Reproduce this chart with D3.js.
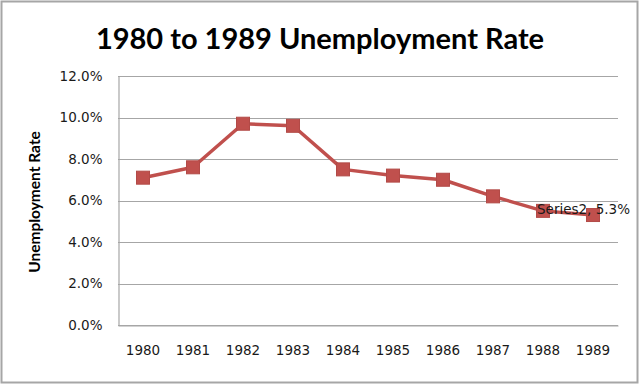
<!DOCTYPE html>
<html>
<head>
<meta charset="utf-8">
<script src="https://cdn.jsdelivr.net/npm/d3@7"></script>
<style>
  body { margin: 0; background: #fff; }
  svg text { font-family: "DejaVu Sans", sans-serif; }
</style>
</head>
<body>
<div id="chart"></div>
<script>
// chart data
var years = ["1980", "1981", "1982", "1983", "1984", "1985", "1986", "1987", "1988", "1989"];
var rates = [7.1, 7.6, 9.7, 9.6, 7.5, 7.2, 7.0, 6.2, 5.5, 5.3];
var yTicks = [0, 2, 4, 6, 8, 10, 12];
var seriesName = "Series2";

var width = 640, height = 386;
var plot = { left: 118, right: 618, top: 76, bottom: 325 };

var svg = d3.select("#chart").append("svg")
    .attr("width", width)
    .attr("height", height);

// outer frame
svg.append("rect")
    .attr("x", 1.5).attr("y", 1.5)
    .attr("width", width - 4).attr("height", height - 5)
    .attr("fill", "#fff")
    .attr("stroke", "#a6a6a6")
    .attr("stroke-width", 2);

var x = d3.scaleBand().domain(years).range([plot.left, plot.right]);
var y = d3.scaleLinear().domain([0, 12]).range([plot.bottom, plot.top]);

// gridlines
svg.append("g").selectAll("line")
    .data(yTicks)
    .enter().append("line")
    .attr("x1", plot.left).attr("x2", plot.right)
    .attr("y1", function (d) { return Math.round(y(d)) + 0.5; })
    .attr("y2", function (d) { return Math.round(y(d)) + 0.5; })
    .attr("stroke", "#a6a6a6")
    .attr("stroke-width", 1.2);

// y axis
var yAxis = d3.axisLeft(y)
    .tickValues(yTicks)
    .tickSize(0)
    .tickPadding(16)
    .tickFormat(function (d) { return d.toFixed(1) + "%"; });
var gy = svg.append("g")
    .attr("transform", "translate(" + (plot.left + 0.5) + ",0)")
    .call(yAxis);
gy.select(".domain").attr("stroke", "#a6a6a6").attr("stroke-width", 1.2);
gy.selectAll("text").attr("font-size", 13.5).attr("fill", "#1a1a1a")
    .style("font-family", "'DejaVu Sans', sans-serif");

// x axis
var xAxis = d3.axisBottom(x).tickSize(0).tickPadding(20);
var gx = svg.append("g")
    .attr("transform", "translate(0," + (plot.bottom + 0.5) + ")")
    .call(xAxis);
gx.select(".domain").attr("stroke", "#a6a6a6").attr("stroke-width", 1.2);
gx.selectAll("text").attr("font-size", 13.5).attr("fill", "#1a1a1a")
    .style("font-family", "'DejaVu Sans', sans-serif");

// line
var line = d3.line()
    .x(function (d, i) { return x(years[i]) + x.bandwidth() / 2; })
    .y(function (d) { return y(d); });

svg.append("path")
    .datum(rates)
    .attr("d", line)
    .attr("fill", "none")
    .attr("stroke", "#C0504D")
    .attr("stroke-width", 3.5)
    .attr("stroke-linejoin", "round");

// square markers
var ms = 13;
svg.append("g").selectAll("rect")
    .data(rates)
    .enter().append("rect")
    .attr("x", function (d, i) { return x(years[i]) + x.bandwidth() / 2 - ms / 2; })
    .attr("y", function (d) { return y(d) - ms / 2; })
    .attr("width", ms).attr("height", ms)
    .attr("fill", "#C0504D")
    .attr("stroke", "#B24A47")
    .attr("stroke-width", 1);

// data label on last point
var last = rates.length - 1;
svg.append("text")
    .attr("x", x(years[last]) + x.bandwidth() / 2 - 56)
    .attr("y", y(rates[last]) - 1)
    .attr("font-size", 13.5)
    .attr("fill", "#1a1a1a")
    .text(seriesName + ", " + rates[last].toFixed(1) + "%");

// title
svg.append("text")
    .attr("x", 320).attr("y", 49)
    .attr("text-anchor", "middle")
    .attr("font-size", 29)
    .attr("font-weight", "bold")
    .attr("fill", "#000")
    .style("font-family", "Lato, sans-serif")
    .text("1980 to 1989 Unemployment Rate");

// y axis title
svg.append("text")
    .attr("transform", "translate(40,202) rotate(-90)")
    .attr("text-anchor", "middle")
    .attr("font-size", 15.5)
    .attr("font-weight", "bold")
    .attr("fill", "#000")
    .style("font-family", "Lato, sans-serif")
    .text("Unemployment Rate");
</script>
</body>
</html>
